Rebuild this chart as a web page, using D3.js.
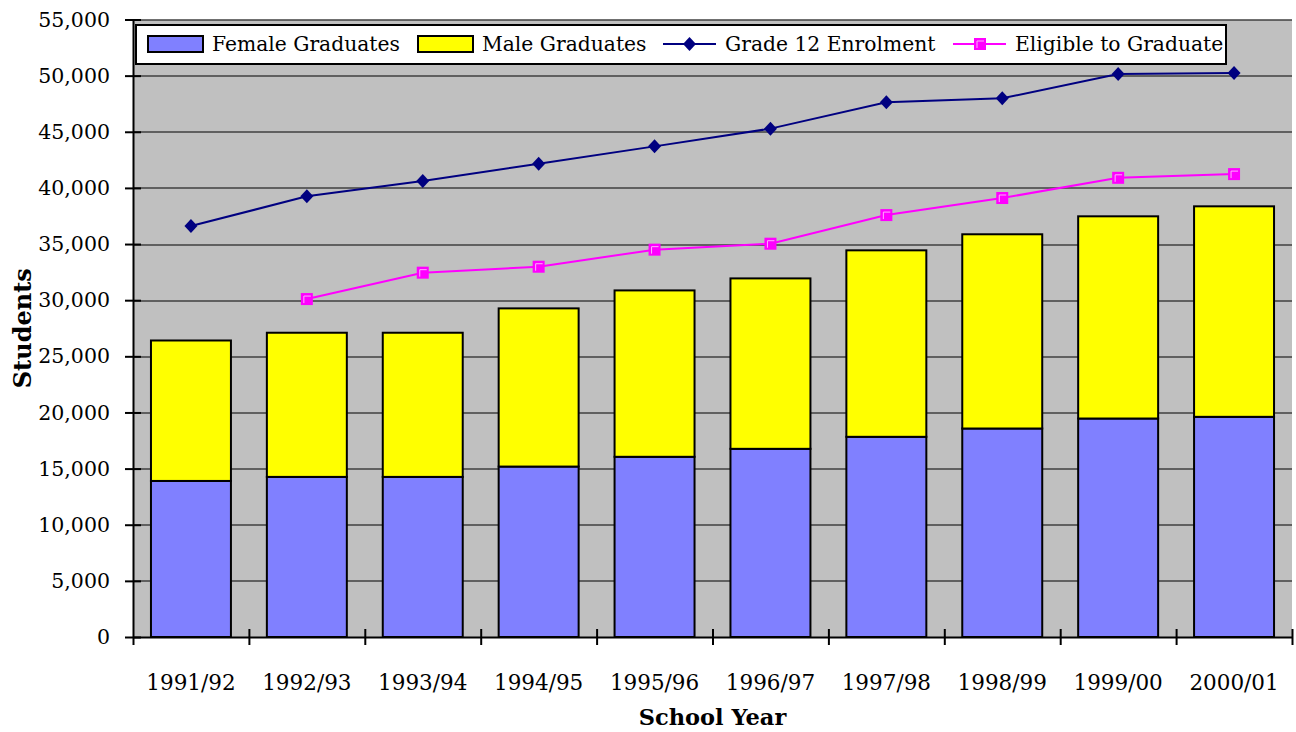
<!DOCTYPE html>
<html>
<head>
<meta charset="utf-8">
<script src="https://cdn.jsdelivr.net/npm/d3@7"></script>
<style>
  body { margin: 0; background: #fff; }
  text { font-family: "DejaVu Serif", serif; fill: #000; }
</style>
</head>
<body>
<div id="chart"></div>
<script>
// school years on the x axis
var years = ["1991/92", "1992/93", "1993/94", "1994/95", "1995/96",
             "1996/97", "1997/98", "1998/99", "1999/00", "2000/01"];

// stacked bars
var female = [13900, 14260, 14260, 15180, 16050, 16760, 17830, 18570, 19460, 19610];
var male   = [12510, 12840, 12840, 14090, 14820, 15180, 16610, 17300, 18010, 18750];

// lines (null = no value that year)
var grade12  = [36600, 39250, 40620, 42150, 43700, 45280, 47620, 47980, 50140, 50240];
var eligible = [null, 30100, 32450, 32980, 34500, 35030, 37580, 39100, 40900, 41230];

var yTicks = d3.range(0, 55001, 5000);

var outerWidth = 1296,
    outerHeight = 732,
    margin = {top: 19.5, right: 4, bottom: 95, left: 133},
    width = outerWidth - margin.left - margin.right,
    height = outerHeight - margin.top - margin.bottom;

var svg = d3.select("#chart").append("svg")
    .attr("width", outerWidth)
    .attr("height", outerHeight);

var g = svg.append("g")
    .attr("transform", "translate(" + margin.left + "," + margin.top + ")");

var x = d3.scaleBand()
    .domain(years)
    .range([0, width])
    .paddingInner(0.31)
    .paddingOuter(0.155);

// edges of the categories, used for the tick marks
var xEdge = d3.scaleLinear()
    .domain([0, years.length])
    .range([0, width]);

var y = d3.scaleLinear()
    .domain([0, 55000])
    .range([height, 0]);

// grey plot area
g.append("rect")
    .attr("width", width)
    .attr("height", height)
    .attr("fill", "#c0c0c0");

// gridlines
g.append("g")
    .selectAll("line")
    .data(yTicks.slice(1))
    .join("line")
    .attr("x1", 0)
    .attr("x2", width)
    .attr("y1", d => Math.round(y(d)) + 0.5)
    .attr("y2", d => Math.round(y(d)) + 0.5)
    .attr("stroke", "#000")
    .attr("stroke-width", 1);

// stacked bars, female at the bottom
var stackData = years.map((yr, i) => ({year: yr, female: female[i], male: male[i]}));
var series = d3.stack().keys(["female", "male"])(stackData);
var colors = {female: "#8080ff", male: "#ffff00"};

g.append("g")
    .selectAll("g")
    .data(series)
    .join("g")
    .attr("fill", d => colors[d.key])
    .selectAll("rect")
    .data(d => d)
    .join("rect")
    .attr("x", d => x(d.data.year))
    .attr("y", d => y(d[1]))
    .attr("width", x.bandwidth())
    .attr("height", d => y(d[0]) - y(d[1]))
    .attr("stroke", "#000")
    .attr("stroke-width", 2);

var cx = d => x(d) + x.bandwidth() / 2;

// Grade 12 enrolment line
var line = d3.line()
    .defined(d => d.v != null)
    .x(d => cx(d.year))
    .y(d => y(d.v));

var g12 = years.map((yr, i) => ({year: yr, v: grade12[i]}));
var elig = years.map((yr, i) => ({year: yr, v: eligible[i]})).filter(d => d.v != null);

g.append("path")
    .datum(g12)
    .attr("d", line)
    .attr("fill", "none")
    .attr("stroke", "#000080")
    .attr("stroke-width", 2);

g.append("g")
    .selectAll("path")
    .data(g12)
    .join("path")
    .attr("transform", d => "translate(" + cx(d.year) + "," + y(d.v) + ")")
    .attr("d", "M0,-7L6.5,0L0,7L-6.5,0Z")
    .attr("fill", "#000080");

// eligible to graduate line
g.append("path")
    .datum(elig)
    .attr("d", line)
    .attr("fill", "none")
    .attr("stroke", "#ff00ff")
    .attr("stroke-width", 2);

var sq = g.append("g")
    .selectAll("g")
    .data(elig)
    .join("g")
    .attr("transform", d => "translate(" + cx(d.year) + "," + y(d.v) + ")");

sq.append("rect")
    .attr("x", -6).attr("y", -6)
    .attr("width", 12).attr("height", 12)
    .attr("fill", "#ff00ff");

sq.append("path")
    .attr("d", "M-3,4V-3H4")
    .attr("fill", "none")
    .attr("stroke", "#ffb0ff")
    .attr("stroke-width", 1);

// y axis, ticks crossing the axis line
var yAxis = g.append("g")
    .call(d3.axisLeft(y)
        .tickValues(yTicks)
        .tickFormat(d3.format(","))
        .tickSizeInner(8)
        .tickSizeOuter(0)
        .tickPadding(15));

yAxis.select(".domain").attr("stroke", "#000").attr("stroke-width", 2);
yAxis.selectAll(".tick line").attr("x1", 8).attr("stroke-width", 2);
yAxis.selectAll("text")
    .attr("font-family", "DejaVu Serif")
    .attr("font-size", "20.5px")
    .attr("fill", "#000");

// x axis: ticks at category edges, labels at centres
var xAxis = g.append("g")
    .attr("transform", "translate(0," + height + ")")
    .call(d3.axisBottom(xEdge)
        .tickValues(d3.range(years.length + 1))
        .tickFormat("")
        .tickSizeInner(8)
        .tickSizeOuter(0));

xAxis.select(".domain").attr("stroke", "#000").attr("stroke-width", 2);
xAxis.selectAll(".tick line").attr("y1", -8).attr("stroke-width", 2);
xAxis.selectAll(".tick line").filter(d => d === 0).attr("y1", 0);

g.append("g")
    .selectAll("text")
    .data(years)
    .join("text")
    .attr("x", d => cx(d))
    .attr("y", height + 53)
    .attr("text-anchor", "middle")
    .attr("font-size", "21.5px")
    .text(d => d);

// axis titles
svg.append("text")
    .attr("x", margin.left + width / 2)
    .attr("y", 725)
    .attr("text-anchor", "middle")
    .attr("font-size", "22.5px")
    .attr("font-weight", "bold")
    .text("School Year");

svg.append("text")
    .attr("transform", "translate(31," + (margin.top + height / 2) + ") rotate(-90)")
    .attr("text-anchor", "middle")
    .attr("font-size", "24px")
    .attr("font-weight", "bold")
    .text("Students");

// legend
var legend = svg.append("g");

legend.append("rect")
    .attr("x", 136).attr("y", 25)
    .attr("width", 1090).attr("height", 39)
    .attr("fill", "#fff")
    .attr("stroke", "#000")
    .attr("stroke-width", 2);

var legendItems = [
  {name: "Female Graduates", type: "bar", color: "#8080ff", x: 148},
  {name: "Male Graduates", type: "bar", color: "#ffff00", x: 418},
  {name: "Grade 12 Enrolment", type: "diamond", color: "#000080", x: 663},
  {name: "Eligible to Graduate", type: "square", color: "#ff00ff", x: 953}
];

var li = legend.selectAll("g.item")
    .data(legendItems)
    .join("g")
    .attr("class", "item")
    .attr("transform", d => "translate(" + d.x + ",44)");

li.filter(d => d.type === "bar").append("rect")
    .attr("x", 0).attr("y", -8)
    .attr("width", 55).attr("height", 16)
    .attr("fill", d => d.color)
    .attr("stroke", "#000")
    .attr("stroke-width", 2);

li.filter(d => d.type !== "bar").append("line")
    .attr("x1", 0).attr("x2", 53)
    .attr("stroke", d => d.color)
    .attr("stroke-width", 2);

li.filter(d => d.type === "diamond").append("path")
    .attr("d", "M26.5,-7L33,0L26.5,7L20,0Z")
    .attr("fill", d => d.color);

li.filter(d => d.type === "square").append("rect")
    .attr("x", 21).attr("y", -6)
    .attr("width", 12).attr("height", 12)
    .attr("fill", d => d.color);

li.filter(d => d.type === "square").append("path")
    .attr("d", "M24,4V-3H31")
    .attr("fill", "none")
    .attr("stroke", "#ffb0ff");

li.append("text")
    .attr("x", d => d.type === "bar" ? 64 : 62)
    .attr("y", 7)
    .attr("font-size", "20.3px")
    .text(d => d.name);
</script>
</body>
</html>
